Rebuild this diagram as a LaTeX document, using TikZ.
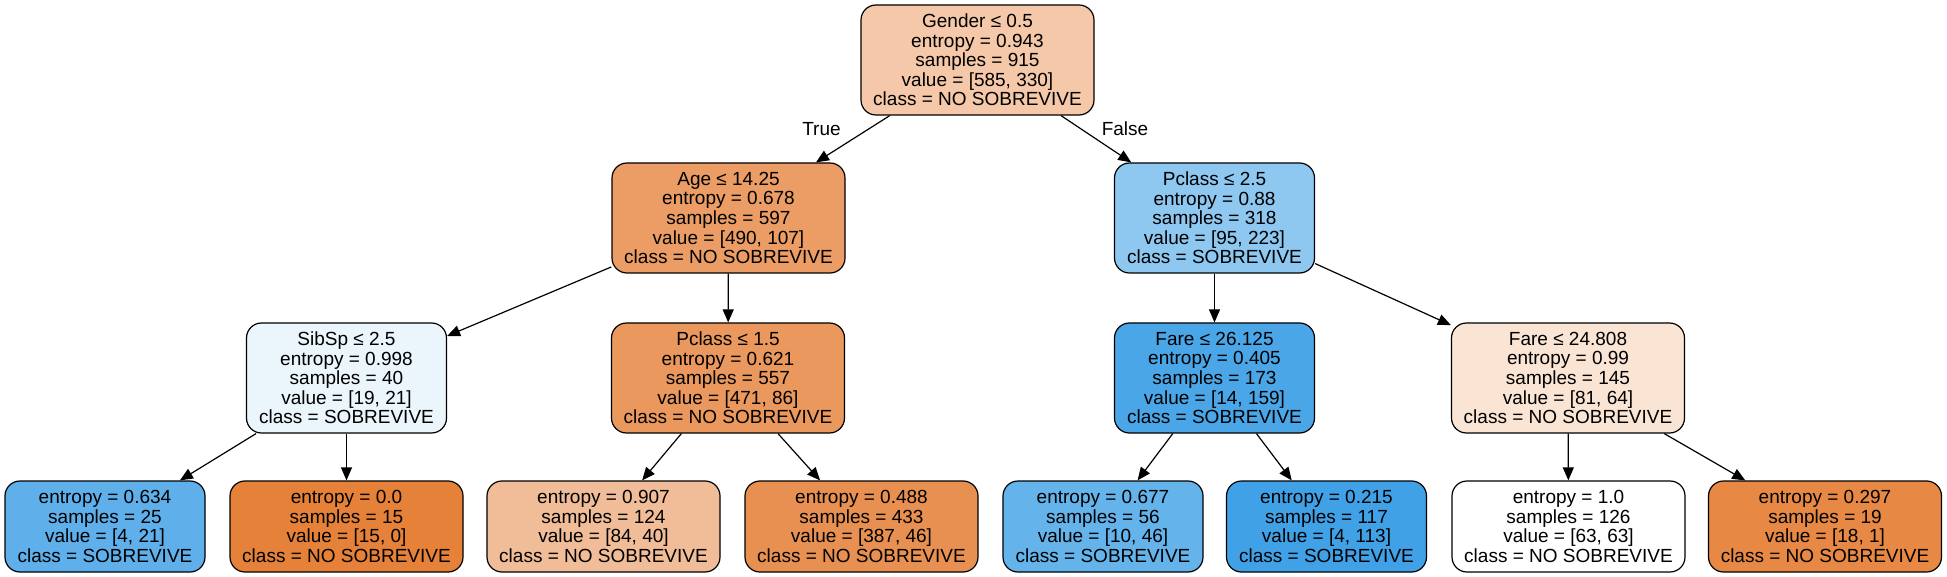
\documentclass[tikz,border=0pt]{standalone}
\usepackage{fontspec}
\setmainfont{Liberation Sans}
\usepackage{xcolor}
\usetikzlibrary{arrows.meta}
\definecolor{nosob}{HTML}{E58139}
\definecolor{sob}{HTML}{399DE5}
\tikzset{
  treenode/.style={draw=black, line width=1.2pt, rounded corners=15pt, align=center, inner sep=0pt, font=\fontsize{19}{19.6}\selectfont},
  widebox/.style={treenode, minimum width=233pt},
  slimbox/.style={treenode, minimum width=200pt},
  splitnode/.style={minimum height=110pt},
  leafnode/.style={minimum height=91pt},
  edgelabel/.style={font=\fontsize{19}{19.6}\selectfont, inner sep=0pt},
  branch/.style={-{Triangle[length=13pt,width=11pt]}, line width=1.2pt},
}
\begin{document}
\begin{tikzpicture}[x=1pt,y=1pt,yscale=-1,xscale=1]
\useasboundingbox (0,0) rectangle (1947,577);
\node (root) at (977.5,60) [widebox,splitnode,fill=nosob!44!white] {Gender ≤ 0.5\\entropy = 0.943\\samples = 915\\value = [585, 330]\\class = NO SOBREVIVE};
\node (age) at (728.5,218) [widebox,splitnode,fill=nosob!78!white] {Age ≤ 14.25\\entropy = 0.678\\samples = 597\\value = [490, 107]\\class = NO SOBREVIVE};
\node (pclassA) at (1214.5,218) [slimbox,splitnode,fill=sob!57!white] {Pclass ≤ 2.5\\entropy = 0.88\\samples = 318\\value = [95, 223]\\class = SOBREVIVE};
\node (sibsp) at (346.5,378) [slimbox,splitnode,fill=sob!10!white] {SibSp ≤ 2.5\\entropy = 0.998\\samples = 40\\value = [19, 21]\\class = SOBREVIVE};
\node (pclassB) at (728,378) [widebox,splitnode,fill=nosob!82!white] {Pclass ≤ 1.5\\entropy = 0.621\\samples = 557\\value = [471, 86]\\class = NO SOBREVIVE};
\node (fareA) at (1214.5,378) [slimbox,splitnode,fill=sob!91!white] {Fare ≤ 26.125\\entropy = 0.405\\samples = 173\\value = [14, 159]\\class = SOBREVIVE};
\node (fareB) at (1568,378) [widebox,splitnode,fill=nosob!21!white] {Fare ≤ 24.808\\entropy = 0.99\\samples = 145\\value = [81, 64]\\class = NO SOBREVIVE};
\node (leafA) at (105,526.5) [slimbox,leafnode,fill=sob!81!white] {entropy = 0.634\\samples = 25\\value = [4, 21]\\class = SOBREVIVE};
\node (leafB) at (346.5,526.5) [widebox,leafnode,fill=nosob] {entropy = 0.0\\samples = 15\\value = [15, 0]\\class = NO SOBREVIVE};
\node (leafC) at (603.5,526.5) [widebox,leafnode,fill=nosob!52!white] {entropy = 0.907\\samples = 124\\value = [84, 40]\\class = NO SOBREVIVE};
\node (leafD) at (861.5,526.5) [widebox,leafnode,fill=nosob!88!white] {entropy = 0.488\\samples = 433\\value = [387, 46]\\class = NO SOBREVIVE};
\node (leafE) at (1103,526.5) [slimbox,leafnode,fill=sob!78!white] {entropy = 0.677\\samples = 56\\value = [10, 46]\\class = SOBREVIVE};
\node (leafF) at (1326.5,526.5) [slimbox,leafnode,fill=sob!96!white] {entropy = 0.215\\samples = 117\\value = [4, 113]\\class = SOBREVIVE};
\node (leafG) at (1568.5,526.5) [widebox,leafnode,fill=white] {entropy = 1.0\\samples = 126\\value = [63, 63]\\class = NO SOBREVIVE};
\node (leafH) at (1825,526.5) [widebox,leafnode,fill=nosob!94!white] {entropy = 0.297\\samples = 19\\value = [18, 1]\\class = NO SOBREVIVE};
\node (truelbl) at (821.5,129) [edgelabel] {True};
\node (falselbl) at (1125,129) [edgelabel] {False};
\draw[branch] (root) -- (age);
\draw[branch] (root) -- (pclassA);
\draw[branch] (age) -- (sibsp);
\draw[branch] (age) -- (pclassB);
\draw[branch] (pclassA) -- (fareA);
\draw[branch] (pclassA) -- (fareB);
\draw[branch] (sibsp) -- (leafA);
\draw[branch] (sibsp) -- (leafB);
\draw[branch] (pclassB) -- (leafC);
\draw[branch] (pclassB) -- (leafD);
\draw[branch] (fareA) -- (leafE);
\draw[branch] (fareA) -- (leafF);
\draw[branch] (fareB) -- (leafG);
\draw[branch] (fareB) -- (leafH);
\end{tikzpicture}
\end{document}
